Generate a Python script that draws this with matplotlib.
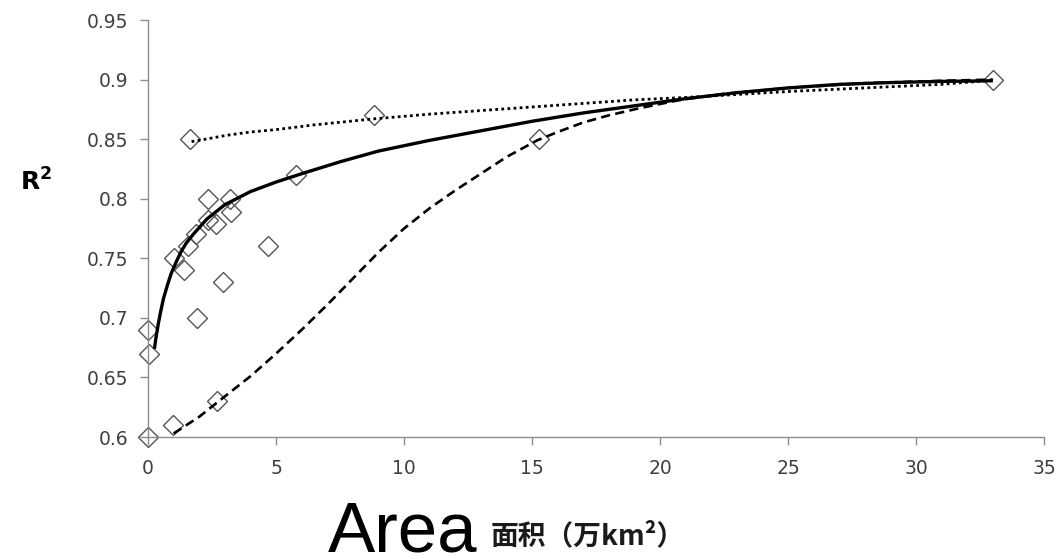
import matplotlib
matplotlib.use("Agg")
import matplotlib.pyplot as plt

# observed R2 values against basin area (10^4 km2)
area = [0.0, 0.05, 0.0, 0.96, 2.69, 1.91, 2.91, 1.03, 1.42, 1.55, 1.87,
        2.33, 2.65, 2.33, 3.21, 3.26, 4.67, 5.77, 1.65, 8.83, 15.26, 33.0]
r2 = [0.69, 0.67, 0.60, 0.61, 0.63, 0.70, 0.73, 0.75, 0.74, 0.76, 0.77,
      0.782, 0.779, 0.80, 0.80, 0.789, 0.76, 0.82, 0.85, 0.87, 0.85, 0.90]

# fitted trend curves
mid_x = [0.25, 0.3, 0.4, 0.5, 0.6, 0.75, 0.9, 1.1, 1.3, 1.5, 1.8, 2.3,
         3.0, 4.0, 5.0, 6.0, 7.5, 9.0, 11, 13, 15, 17, 19, 21, 23, 25, 27,
         29, 31, 33]
mid_y = [0.674, 0.682, 0.695, 0.706, 0.716, 0.727, 0.737, 0.747, 0.756,
         0.763, 0.771, 0.783, 0.795, 0.806, 0.814, 0.821, 0.831, 0.840,
         0.849, 0.857, 0.865, 0.872, 0.878, 0.884, 0.889, 0.893, 0.896,
         0.8975, 0.8985, 0.899]

top_x = [1.7, 2.0, 3, 4, 5, 6.5, 8.8, 11, 13, 15, 17, 19, 21, 23, 25, 27,
         29, 31, 33]
top_y = [0.848, 0.849, 0.853, 0.856, 0.858, 0.862, 0.867, 0.871, 0.874,
         0.877, 0.880, 0.883, 0.885, 0.8875, 0.890, 0.892, 0.894, 0.896,
         0.8995]

low_x = [1.0, 2.0, 2.7, 4.0, 5.0, 6.0, 7.0, 8.0, 9.0, 10.0, 11.0, 12.0,
         13.0, 14.0, 15.2, 16.0, 17.0, 18.0, 19.2, 20.8, 22.5, 25.0, 28.0,
         31.0, 33.0]
low_y = [0.603, 0.617, 0.629, 0.651, 0.670, 0.690, 0.711, 0.733, 0.755,
         0.775, 0.792, 0.807, 0.821, 0.835, 0.849, 0.856, 0.864, 0.870,
         0.876, 0.883, 0.888, 0.893, 0.897, 0.899, 0.900]

xticks = [0, 5, 10, 15, 20, 25, 30, 35]
yticks = [0.6, 0.65, 0.7, 0.75, 0.8, 0.85, 0.9, 0.95]
ytick_labels = ["0.6", "0.65", "0.7", "0.75", "0.8", "0.85", "0.9", "0.95"]

fig = plt.figure(figsize=(10.62, 5.59), dpi=100)
ax = fig.add_axes([0.1394, 0.2182, 0.8437, 0.746])

ax.plot(area, r2, linestyle="none", marker="D", markersize=10.5,
        markerfacecolor="none", markeredgecolor="#555555",
        markeredgewidth=1.0, zorder=2, clip_on=False)
ax.plot(mid_x, mid_y, color="black", lw=2.4, solid_capstyle="butt", zorder=3)
ax.plot(top_x, top_y, color="black", lw=2.0, linestyle=(0, (1, 1.2)), zorder=3)
ax.plot(low_x, low_y, color="black", lw=1.9, linestyle=(0, (3.5, 2)), zorder=3)

ax.set_xlim(0, 35)
ax.set_ylim(0.6, 0.95)
ax.set_xticks(xticks)
ax.set_yticks(yticks)
ax.set_yticklabels(ytick_labels)

for s in ("top", "right"):
    ax.spines[s].set_visible(False)
for s in ("left", "bottom"):
    ax.spines[s].set_color("#8c8c8c")
    ax.spines[s].set_linewidth(1.0)
ax.tick_params(direction="out", length=6, width=1.0, color="#8c8c8c",
               labelsize=13.5, labelcolor="#404040")
ax.tick_params(axis="x", pad=10)
ax.tick_params(axis="y", pad=8)

fig.text(0.034, 0.675, r"$\mathbf{R^2}$", fontsize=18, ha="center",
         va="center", color="black")
fig.text(0.309, 0.014, "Area", fontsize=51, family="Liberation Sans",
         ha="left", va="baseline", color="black")
fig.text(0.462, 0.027, "面积（万km²）", fontsize=20, fontweight="bold",
         family=["Noto Sans CJK SC", "DejaVu Sans"], ha="left",
         va="baseline", color="#1a1a1a")

fig.savefig("out.png", dpi=100)
